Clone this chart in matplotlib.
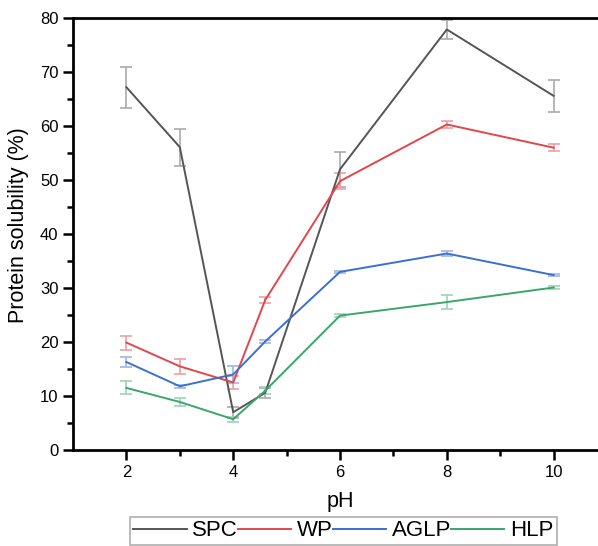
import matplotlib
matplotlib.use("Agg")
import matplotlib.pyplot as plt

plt.rcParams['font.family'] = ['Liberation Sans', 'DejaVu Sans']

ph = [2, 3, 4, 4.6, 6, 8, 10]

spc = [67.2, 56.1, 7.0, 10.6, 52.0, 77.9, 65.6]
spc_err = [3.8, 3.4, 1.0, 0.9, 3.2, 1.8, 3.0]

wp = [19.9, 15.5, 12.5, 27.8, 49.8, 60.3, 56.0]
wp_err = [1.3, 1.4, 1.2, 0.5, 1.5, 0.6, 0.6]

aglp = [16.3, 11.8, 14.0, 20.1, 33.0, 36.4, 32.4]
aglp_err = [0.9, 0.3, 1.6, 0.3, 0.2, 0.5, 0.2]

hlp = [11.5, 8.9, 5.7, 11.0, 24.9, 27.4, 30.1]
hlp_err = [1.2, 0.7, 0.5, 0.6, 0.3, 1.3, 0.3]

names = ['SPC', 'WP', 'AGLP', 'HLP']
colors = ['#555555', '#e0474c', '#3b6fd4', '#3aa56c']
err_colors = ['#aaaaaa', '#eea0a3', '#9db6e8', '#9fd2b5']

fig = plt.figure(figsize=(5.98, 5.46), dpi=100)
ax = fig.add_axes([0.1221, 0.1758, 0.893, 0.791])

series = [(spc, spc_err), (wp, wp_err), (aglp, aglp_err), (hlp, hlp_err)]
handles = []
for (vals, errs), name, c, ec in zip(series, names, colors, err_colors):
    ax.errorbar(ph, vals, yerr=errs, fmt='none', ecolor=ec, elinewidth=1.2,
                capsize=4, capthick=1.2, zorder=2)
    h, = ax.plot(ph, vals, color=c, lw=1.4, label=name, zorder=3)
    handles.append(h)

ax.set_xlim(1, 11)
ax.set_ylim(0, 80)
ax.set_xticks([2, 4, 6, 8, 10])
ax.set_xticks([3, 5, 7, 9], minor=True)
ax.set_yticks(range(0, 81, 10))
ax.set_yticks(range(5, 80, 10), minor=True)

for s in ['left', 'bottom', 'top', 'right']:
    ax.spines[s].set_linewidth(2)
ax.tick_params(which='major', direction='out', length=7, width=1.8, labelsize=12)
ax.tick_params(which='minor', direction='out', length=4, width=1.8)

ax.set_xlabel('pH', fontsize=15.5, labelpad=8)
ax.set_ylabel('Protein solubility (%)', fontsize=15.5, labelpad=6)
ax.yaxis.set_label_coords(-0.082, 0.52)

leg = fig.legend(handles=handles, loc='upper center', bbox_to_anchor=(0.574, 0.053),
                 ncol=4, fontsize=16, frameon=True, fancybox=False,
                 handlelength=2.4, handletextpad=0.25, columnspacing=0.0,
                 borderpad=0.15, borderaxespad=0)
leg.get_frame().set_edgecolor('#999999')
leg.get_frame().set_linewidth(1.2)

fig.savefig('out.png', dpi=100)
